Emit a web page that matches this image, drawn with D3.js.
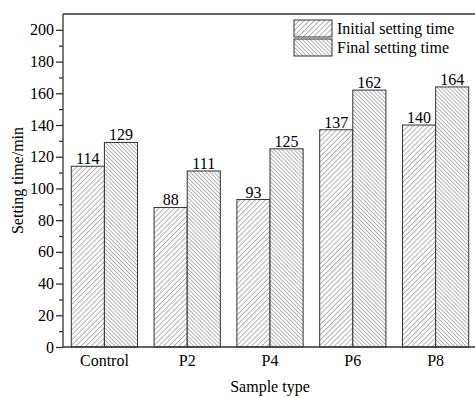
<!DOCTYPE html>
<html>
<head>
<meta charset="utf-8">
<script src="https://cdn.jsdelivr.net/npm/d3@7"></script>
<style>
  body { margin: 0; background: #fff; }
  svg { display: block; }
</style>
</head>
<body>
<div id="chart"></div>
<script>
// data
var categories = ["Control", "P2", "P4", "P6", "P8"];
var seriesNames = ["Initial setting time", "Final setting time"];
var initialTime = [114, 88, 93, 137, 140];
var finalTime = [129, 111, 125, 162, 164];
var yTicks = [0, 20, 40, 60, 80, 100, 120, 140, 160, 180, 200];

var serif = "'Liberation Serif', 'Times New Roman', Times, 'DejaVu Serif', serif";

var width = 475, height = 398;
var margin = { top: 14, left: 63, bottom: 51 };
var plotW = 414;   // runs slightly past the right edge, as in the original
var plotH = height - margin.top - margin.bottom;

var svg = d3.select("#chart").append("svg")
    .attr("width", width)
    .attr("height", height);

// hatch patterns
var defs = svg.append("defs");
function hatch(id, spacing, angle) {
    var p = defs.append("pattern")
        .attr("id", id)
        .attr("patternUnits", "userSpaceOnUse")
        .attr("width", spacing)
        .attr("height", spacing)
        .attr("patternTransform", "rotate(" + angle + ")");
    p.append("rect").attr("width", spacing).attr("height", spacing).attr("fill", "#fff");
    p.append("line")
        .attr("x1", 0).attr("y1", 0)
        .attr("x2", 0).attr("y2", spacing)
        .attr("stroke", "#666")
        .attr("stroke-width", 1);
}
hatch("hatchInit", 3.6, 45);
hatch("hatchFinal", 2.8, -45);
var fills = ["url(#hatchInit)", "url(#hatchFinal)"];

var g = svg.append("g").attr("transform", "translate(" + margin.left + "," + margin.top + ")");

var x = d3.scaleBand().domain(categories).range([0, plotW]).paddingInner(0.2).paddingOuter(0.1);
var xSub = d3.scaleBand().domain(seriesNames).range([0, x.bandwidth()]);
var y = d3.scaleLinear().domain([0, 210]).range([plotH, 0]);

var rows = categories.map(function (c, i) {
    return { cat: c, values: [initialTime[i], finalTime[i]] };
});

// bars
var groups = g.selectAll("g.cat")
    .data(rows)
    .enter()
    .append("g")
    .attr("class", "cat")
    .attr("transform", function (d) { return "translate(" + x(d.cat) + ",0)"; });

groups.selectAll("rect")
    .data(function (d) { return d.values.map(function (v, j) { return { s: seriesNames[j], v: v, j: j }; }); })
    .enter()
    .append("rect")
    .attr("x", function (d) { return xSub(d.s); })
    .attr("y", function (d) { return y(d.v); })
    .attr("width", xSub.bandwidth())
    .attr("height", function (d) { return plotH - y(d.v); })
    .attr("fill", function (d) { return fills[d.j]; })
    .attr("stroke", "#333")
    .attr("stroke-width", 1);

// value labels
groups.selectAll("text.val")
    .data(function (d) { return d.values.map(function (v, j) { return { s: seriesNames[j], v: v }; }); })
    .enter()
    .append("text")
    .attr("class", "val")
    .text(function (d) { return d.v; })
    .attr("text-anchor", "middle")
    .attr("x", function (d) { return xSub(d.s) + xSub.bandwidth() / 2; })
    .attr("y", function (d) { return y(d.v) - 2; })
    .style("font-family", serif)
    .style("font-size", "16px")
    .attr("fill", "#000");

// y axis, major and minor ticks pointing outward
var yAxis = g.append("g")
    .call(d3.axisLeft(y).tickValues(yTicks).tickSize(7).tickPadding(2));
g.append("g")
    .call(d3.axisLeft(y).tickValues(d3.range(10, 210, 20)).tickSize(4).tickFormat(""))
    .select(".domain").remove();
yAxis.select(".domain").attr("d", "M0," + plotH + "V0");

// x axis without ticks
var xAxis = g.append("g")
    .attr("transform", "translate(0," + plotH + ")")
    .call(d3.axisBottom(x).tickSize(0).tickPadding(8));
xAxis.select(".domain").attr("d", "M0,0H" + plotW);

g.selectAll(".tick text")
    .style("font-family", serif)
    .style("font-size", "16px")
    .attr("fill", "#000");
g.selectAll(".domain, .tick line").attr("stroke", "#333").attr("stroke-width", 1.3);

// top frame line
g.append("line")
    .attr("x1", 0).attr("x2", plotW)
    .attr("y1", 0).attr("y2", 0)
    .attr("stroke", "#333")
    .attr("stroke-width", 1.3);

// axis titles
svg.append("text")
    .text("Sample type")
    .attr("text-anchor", "middle")
    .attr("x", margin.left + plotW / 2)
    .attr("y", 392)
    .style("font-family", serif)
    .style("font-size", "16px")
    .attr("fill", "#000");

svg.append("text")
    .text("Setting time/min")
    .attr("text-anchor", "middle")
    .attr("transform", "translate(23," + (margin.top + plotH / 2) + ") rotate(-90)")
    .style("font-family", serif)
    .style("font-size", "16px")
    .attr("fill", "#000");

// legend
var legend = svg.append("g").attr("transform", "translate(294,20)");
seriesNames.forEach(function (name, i) {
    legend.append("rect")
        .attr("x", 0).attr("y", i * 19)
        .attr("width", 38).attr("height", 17)
        .attr("fill", fills[i])
        .attr("stroke", "#333")
        .attr("stroke-width", 1);
    legend.append("text")
        .text(name)
        .attr("x", 43)
        .attr("y", i * 19 + 14)
        .style("font-family", serif)
        .style("font-size", "16px")
        .attr("fill", "#000");
});
</script>
</body>
</html>
